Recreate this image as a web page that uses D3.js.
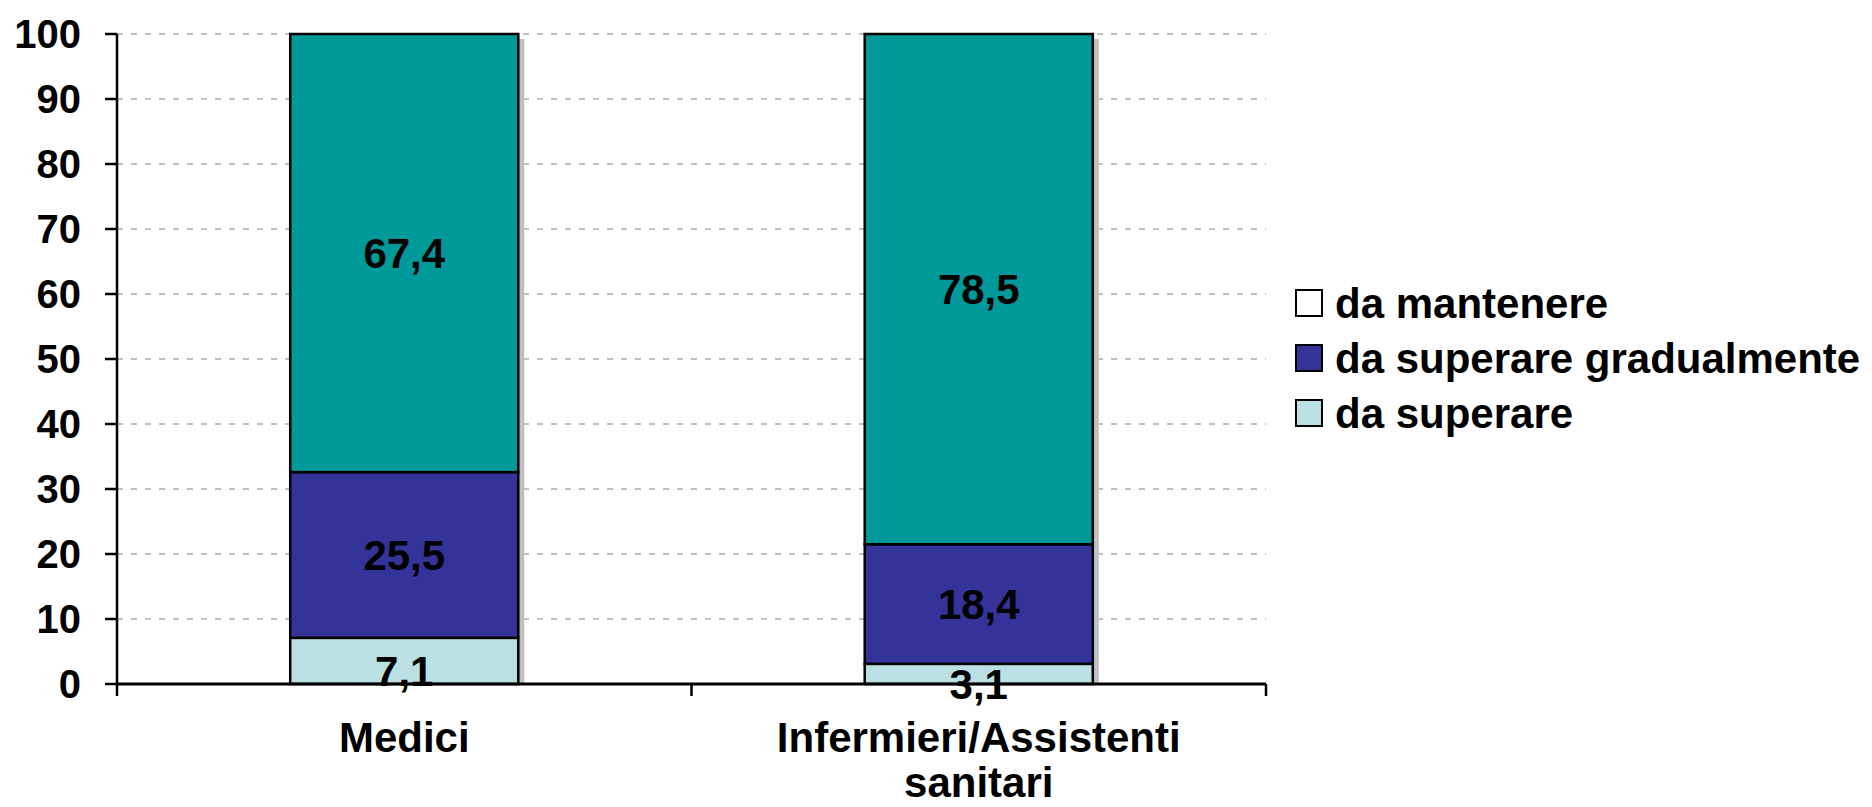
<!DOCTYPE html>
<html>
<head>
<meta charset="utf-8">
<script src="https://cdn.jsdelivr.net/npm/d3@7"></script>
<style>
  body { margin: 0; background: #fff; }
  text { font-family: "Liberation Sans", Arial, sans-serif; font-weight: bold; fill: #000; }
</style>
</head>
<body>
<div id="chart"></div>
<script>
// categories and series (bottom to top)
var categories = ["Medici", "Infermieri/Assistenti sanitari"]
var seriesNames = ["da superare", "da superare gradualmente", "da mantenere"]
var daSuperare = [7.1, 3.1]
var daSuperareGrad = [25.5, 18.4]
var daMantenere = [67.4, 78.5]
var yTicks = [0, 10, 20, 30, 40, 50, 60, 70, 80, 90, 100]

// legend order as shown in the picture
var legendNames = ["da mantenere", "da superare gradualmente", "da superare"]
var legendFill = ["#ffffff", "#333399", "#bbe0e3"]
var seriesFill = ["#bbe0e3", "#333399", "#009999"]

var width = 1872, height = 807
var margin = { top: 34, left: 117, right: 606, bottom: 123 }

var svg = d3.select("#chart").append("svg")
    .attr("width", width)
    .attr("height", height)

var x = d3.scaleBand()
    .domain(categories)
    .range([margin.left, width - margin.right])
    .padding(0)

var y = d3.scaleLinear()
    .domain([0, 100])
    .range([height - margin.bottom, margin.top])

var barW = x.bandwidth() * 0.397

// build rows for the stack
var rows = categories.map(function(c, i) {
    var r = { cat: c }
    r[seriesNames[0]] = daSuperare[i]
    r[seriesNames[1]] = daSuperareGrad[i]
    r[seriesNames[2]] = daMantenere[i]
    return r
})
var stacked = d3.stack().keys(seriesNames)(rows)

// grid lines
svg.append("g")
    .selectAll("line")
    .data(yTicks.filter(function(d) { return d > 0 }))
    .enter().append("line")
    .attr("x1", margin.left)
    .attr("x2", width - margin.right)
    .attr("y1", function(d) { return y(d) })
    .attr("y2", function(d) { return y(d) })
    .style("stroke", "#c0c0c0")
    .style("stroke-width", 2)
    .style("stroke-dasharray", "6,8")

// shadow behind each bar
svg.append("g")
    .selectAll("rect")
    .data(rows)
    .enter().append("rect")
    .attr("x", function(d) { return x(d.cat) + x.bandwidth() / 2 - barW / 2 + 6 })
    .attr("y", y(100) + 5)
    .attr("width", barW)
    .attr("height", y(0) - y(100) - 5)
    .style("fill", "#c0c0c0")

// stacked segments
var layer = svg.append("g")
    .selectAll("g")
    .data(stacked)
    .enter().append("g")
    .style("fill", function(d, i) { return seriesFill[i] })

layer.selectAll("rect")
    .data(function(d) { return d })
    .enter().append("rect")
    .attr("x", function(d) { return x(d.data.cat) + x.bandwidth() / 2 - barW / 2 })
    .attr("y", function(d) { return y(d[1]) })
    .attr("width", barW)
    .attr("height", function(d) { return y(d[0]) - y(d[1]) })
    .style("stroke", "#000")
    .style("stroke-width", 2.5)

// y axis
var yAxis = svg.append("g")
yAxis.append("line")
    .attr("x1", margin.left).attr("x2", margin.left)
    .attr("y1", y(0)).attr("y2", y(100))
    .style("stroke", "#000").style("stroke-width", 2.5)
yAxis.selectAll(".tk")
    .data(yTicks)
    .enter().append("line")
    .attr("x1", margin.left - 12).attr("x2", margin.left)
    .attr("y1", function(d) { return y(d) })
    .attr("y2", function(d) { return y(d) })
    .style("stroke", "#000").style("stroke-width", 2.5)
yAxis.selectAll("text")
    .data(yTicks)
    .enter().append("text")
    .attr("x", 81)
    .attr("y", function(d) { return y(d) })
    .attr("dy", "0.36em")
    .attr("text-anchor", "end")
    .style("font-size", "40px")
    .text(function(d) { return d })

// x axis
var xAxis = svg.append("g")
xAxis.append("line")
    .attr("x1", margin.left).attr("x2", width - margin.right)
    .attr("y1", y(0)).attr("y2", y(0))
    .style("stroke", "#000").style("stroke-width", 3)
var bounds = categories.map(function(c) { return x(c) }).concat([width - margin.right])
xAxis.selectAll(".tk")
    .data(bounds)
    .enter().append("line")
    .attr("x1", function(d) { return d }).attr("x2", function(d) { return d })
    .attr("y1", y(0)).attr("y2", y(0) + 12)
    .style("stroke", "#000").style("stroke-width", 2.5)

var catLabel = xAxis.selectAll(".cat")
    .data(categories)
    .enter().append("text")
    .attr("text-anchor", "middle")
    .style("font-size", "42px")
catLabel.selectAll("tspan")
    .data(function(d) {
        return d == "Infermieri/Assistenti sanitari" ? ["Infermieri/Assistenti", "sanitari"] : [d]
    })
    .enter().append("tspan")
    .attr("x", function() { var c = d3.select(this.parentNode).datum(); return x(c) + x.bandwidth() / 2 })
    .attr("y", function(d, i) { return 752 + i * 45 })
    .text(function(d) { return d })

// value labels (bottom series sits a little lower, as in the original)
layer.selectAll("text")
    .data(function(d) { return d })
    .enter().append("text")
    .attr("x", function(d) { return x(d.data.cat) + x.bandwidth() / 2 })
    .attr("y", function(d) { return y((d[0] + d[1]) / 2) + (d[0] == 0 ? 10 : 0) })
    .attr("dy", "0.36em")
    .attr("text-anchor", "middle")
    .style("font-size", "42px")
    .style("fill", "#000")
    .text(function(d) { return d3.format(".1f")(d[1] - d[0]).replace(".", ",") })

// legend
var legend = svg.append("g")
    .selectAll("g")
    .data(legendNames)
    .enter().append("g")
    .attr("transform", function(d, i) { return "translate(1296," + (303 + i * 55) + ")" })
legend.append("rect")
    .attr("x", 0).attr("y", -13)
    .attr("width", 26).attr("height", 26)
    .style("fill", function(d, i) { return legendFill[i] })
    .style("stroke", "#000").style("stroke-width", 2)
legend.append("text")
    .attr("x", 39)
    .attr("dy", "0.36em")
    .style("font-size", "42px")
    .text(function(d) { return d })
</script>
</body>
</html>
